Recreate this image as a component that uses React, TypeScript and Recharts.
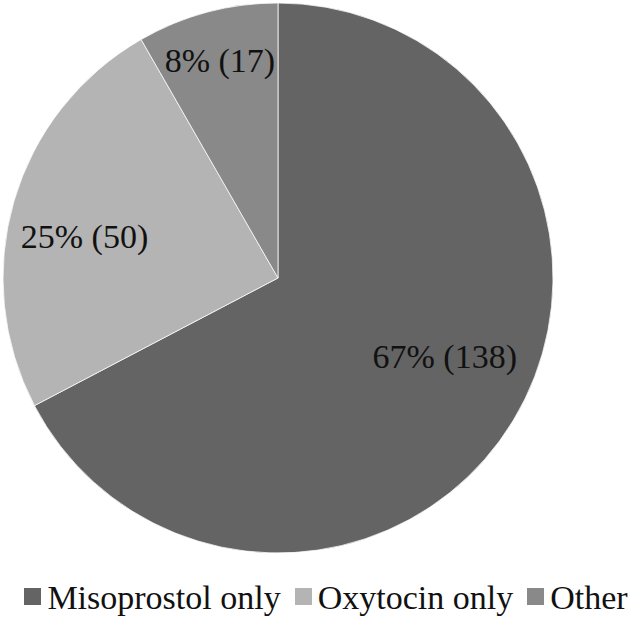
import React from 'react';
import { PieChart, Pie, Cell, Legend } from 'recharts';

const categories = ['Misoprostol only', 'Oxytocin only', 'Other'];
const counts = [138, 50, 17];
const percents = [67, 25, 8];
const colors = ['#646464', '#b4b4b4', '#898989'];

const data = categories.map((name, i) => ({ name, value: counts[i] }));

const FONT = 'Liberation Serif, Tinos, Times New Roman, DejaVu Serif, serif';
const RAD = Math.PI / 180;

// Excel-like label spots: radius fraction and angle nudge per slice
const labelRadius = [0.67, 0.72, 0.82];
const labelNudge = [6, 4, 0];

const renderLabel = (props: any) => {
  const { cx, cy, midAngle, outerRadius, index } = props;
  const r = outerRadius * labelRadius[index];
  const a = (midAngle + labelNudge[index]) * RAD;
  const x = cx + r * Math.cos(a);
  const y = cy - r * Math.sin(a);
  return (
    <text
      x={x}
      y={y}
      fill="#111"
      style={{ fontFamily: FONT, fontSize: 34 }}
      textAnchor="middle"
      dominantBaseline="central"
    >
      {`${percents[index]}% (${counts[index]})`}
    </text>
  );
};

const LegendContent = () => (
  <div
    style={{
      display: 'flex',
      justifyContent: 'center',
      alignItems: 'center',
      paddingLeft: 12,
      fontFamily: FONT,
      fontSize: 34,
      lineHeight: '39px',
      color: '#111',
    }}
  >
    {categories.map((c, i) => (
      <div key={c} style={{ display: 'flex', alignItems: 'center', marginRight: i < categories.length - 1 ? 14 : 0 }}>
        <span style={{ display: 'inline-block', width: 17, height: 17, background: colors[i], marginRight: 6, marginTop: -2 }} />
        <span>{c}</span>
      </div>
    ))}
  </div>
);

export default function App() {
  return (
    <div style={{ position: 'absolute', left: 0, top: 0, width: 640, height: 619, background: '#fff' }}>
      <PieChart width={640} height={619} margin={{ top: 0, right: 0, bottom: 0, left: 0 }}>
        <Pie
          data={data}
          dataKey="value"
          nameKey="name"
          cx={278}
          cy={278}
          outerRadius={275}
          startAngle={90}
          endAngle={-270}
          stroke="#ffffff"
          strokeWidth={0.75}
          label={renderLabel}
          labelLine={false}
          isAnimationActive={false}
        >
          {data.map((d, i) => (
            <Cell key={d.name} fill={colors[i]} />
          ))}
        </Pie>
        <Legend
          content={<LegendContent />}
          wrapperStyle={{ position: 'absolute', left: 0, top: 578, width: 640 }}
        />
      </PieChart>
    </div>
  );
}
